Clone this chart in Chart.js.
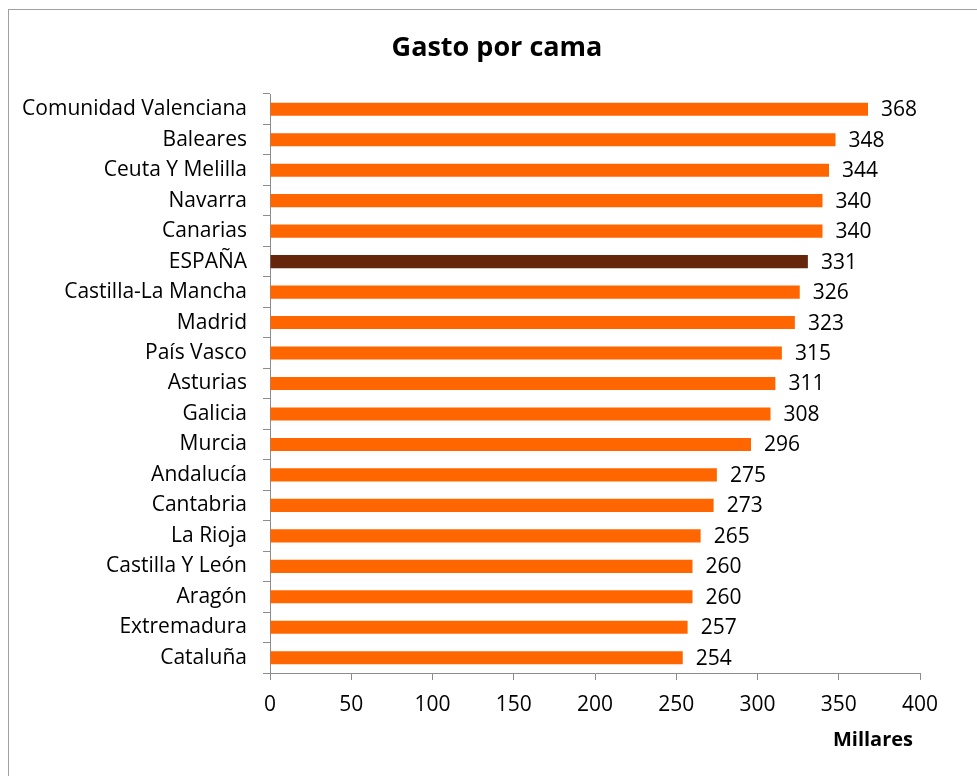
<!DOCTYPE html>
<html>
<head>
<meta charset="utf-8">
<script src="https://cdn.jsdelivr.net/npm/chart.js@4"></script>
<style>
html, body { margin: 0; padding: 0; background: #fff; }
#wrap { width: 977px; height: 776px; }
</style>
</head>
<body>
<div id="wrap"><canvas id="c" width="977" height="776"></canvas></div>
<script>
// datos
var regiones = [
	"Comunidad Valenciana", "Baleares", "Ceuta Y Melilla", "Navarra", "Canarias",
	"ESPAÑA", "Castilla-La Mancha", "Madrid", "País Vasco", "Asturias",
	"Galicia", "Murcia", "Andalucía", "Cantabria", "La Rioja",
	"Castilla Y León", "Aragón", "Extremadura", "Cataluña"
];
var gasto = [368, 348, 344, 340, 340, 331, 326, 323, 315, 311, 308, 296, 275, 273, 265, 260, 260, 257, 254];
var ejeTicks = [0, 50, 100, 150, 200, 250, 300, 350, 400];

var NARANJA = "#FF6600";
var MARRON = "#66260C";
var FUENTE = "'Open Sans', 'Noto Sans', sans-serif";

var colores = regiones.map(function(r) { return r === "ESPAÑA" ? MARRON : NARANJA; });

// titulo, marco, etiquetas de valor y "Millares"
var extras = {
	id: "extras",
	beforeDraw: function(chart) {
		var ctx = chart.ctx;
		ctx.save();
		ctx.strokeStyle = "#a0a0a0";
		ctx.lineWidth = 1;
		ctx.strokeRect(8.5, 9.5, 975, 800);
		ctx.restore();
	},
	afterDatasetsDraw: function(chart) {
		var ctx = chart.ctx;
		var meta = chart.getDatasetMeta(0);
		ctx.save();
		ctx.font = "21px " + FUENTE;
		ctx.fillStyle = "#000";
		ctx.textAlign = "left";
		ctx.textBaseline = "middle";
		meta.data.forEach(function(bar, i) {
			ctx.fillText(String(gasto[i]), bar.x + 13, bar.y + 1);
		});
		ctx.textAlign = "center";
		ctx.font = "bold 27px " + FUENTE;
		ctx.fillText("Gasto por cama", 497, 48);
		ctx.font = "bold 20px " + FUENTE;
		ctx.fillText("Millares", 873, 740);
		ctx.restore();
	}
};

new Chart(document.getElementById("c").getContext("2d"), {
	type: "bar",
	data: {
		labels: regiones,
		datasets: [{
			data: gasto,
			backgroundColor: colores,
			borderWidth: 0,
			barPercentage: 0.43,
			categoryPercentage: 1.0
		}]
	},
	options: {
		indexAxis: "y",
		responsive: false,
		animation: false,
		devicePixelRatio: 1,
		layout: { padding: { top: 94, right: 57, left: 10, bottom: 0 } },
		plugins: {
			legend: { display: false },
			tooltip: { enabled: false },
			title: { display: false }
		},
		scales: {
			x: {
				min: 0,
				max: 400,
				afterBuildTicks: function(axis) {
					axis.ticks = ejeTicks.map(function(v) { return { value: v }; });
				},
				afterFit: function(axis) { axis.height = 103; },
				grid: {
					drawOnChartArea: false,
					drawTicks: true,
					tickLength: 7,
					color: "#8c8c8c"
				},
				border: { color: "#8c8c8c", width: 1 },
				ticks: {
					color: "#000",
					padding: 12,
					font: { family: FUENTE, size: 21 },
					maxRotation: 0
				}
			},
			y: {
				afterFit: function(axis) { axis.width = 260; },
				grid: {
					drawOnChartArea: false,
					drawTicks: true,
					tickLength: 7,
					offset: true,
					color: "#8c8c8c"
				},
				border: { color: "#8c8c8c", width: 1 },
				ticks: {
					color: "#000",
					padding: 16,
					font: { family: FUENTE, size: 21 },
					autoSkip: false
				}
			}
		}
	},
	plugins: [extras]
});
</script>
</body>
</html>
